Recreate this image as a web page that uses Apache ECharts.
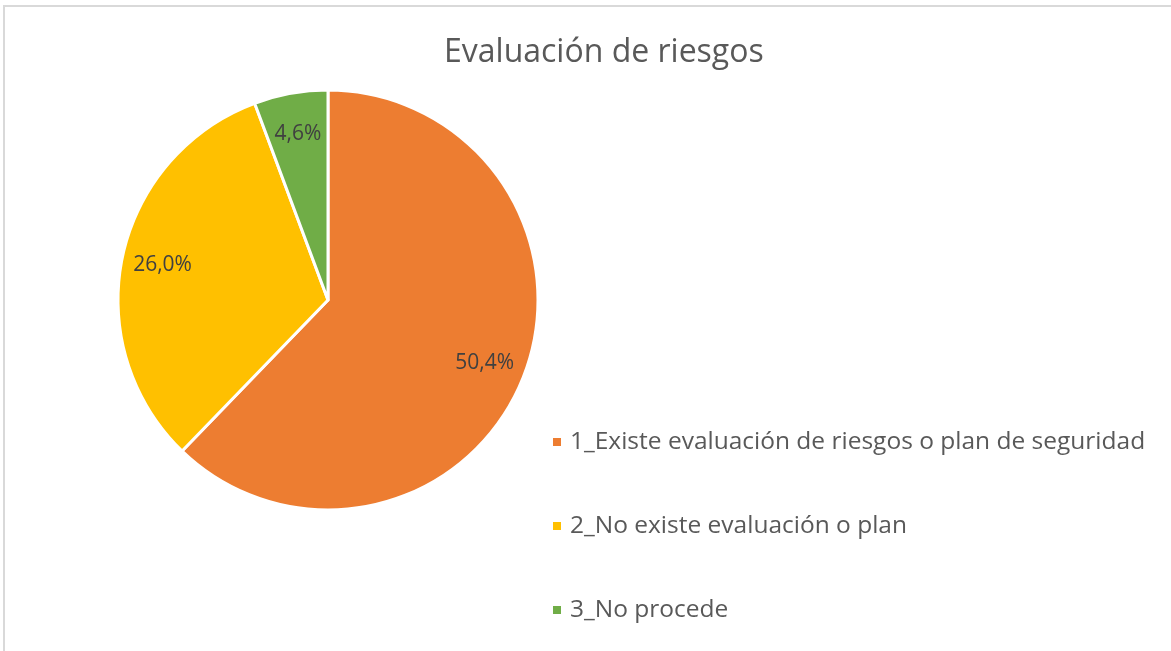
<!DOCTYPE html>
<html>
<head>
<meta charset="utf-8">
<script src="https://cdn.jsdelivr.net/npm/echarts@6/dist/echarts.min.js"></script>
<style>
  html, body { margin: 0; padding: 0; background: #fff; }
  #frame { position: absolute; left: 3px; top: 5px; width: 1168px; height: 646px;
           border-left: 2px solid #d9d9d9; border-top: 2px solid #d9d9d9; }
  #chart { position: absolute; left: 0; top: 0; width: 1171px; height: 651px; }
</style>
</head>
<body>
<div id="frame"></div>
<div id="chart"></div>
<script>
// datos del gráfico
const categorias = [
  '1_Existe evaluación de riesgos o plan de seguridad',
  '2_No existe evaluación o plan',
  '3_No procede'
]
const valores = [50.4, 26.0, 4.6]
const colores = ['#ED7D31', '#FFC000', '#70AD47']

const pieData = categorias.map((name, i) => ({
  name: name,
  value: valores[i],
  itemStyle: { color: colores[i] }
}))

const chart = echarts.init(document.getElementById('chart'))
const option = {
  animation: false,
  title: {
    text: 'Evaluación de riesgos',
    left: 439,
    top: 32,
    textStyle: {
      fontFamily: 'Open Sans',
      fontSize: 32,
      fontWeight: 'normal',
      color: '#595959'
    }
  },
  legend: {
    orient: 'vertical',
    left: 546,
    top: 423,
    itemWidth: 10,
    itemHeight: 10,
    itemGap: 56,
    icon: 'rect',
    data: categorias,
    textStyle: {
      fontFamily: 'Open Sans',
      fontSize: 24.5,
      lineHeight: 28,
      color: '#595959',
      padding: [0, 0, 0, 3]
    }
  },
  series: [
    {
      // porciones
      type: 'pie',
      center: [328, 300],
      radius: [0, 210],
      startAngle: 90,
      clockwise: true,
      data: pieData,
      label: { show: false },
      labelLine: { show: false },
      itemStyle: { borderColor: '#fff', borderWidth: 3 },
      emphasis: { disabled: true }
    },
    {
      // etiquetas de datos (más cerca del borde, como Excel)
      type: 'pie',
      center: [328, 300],
      radius: [122, 210],
      startAngle: 90,
      clockwise: true,
      silent: true,
      data: pieData.map(d => ({ name: d.name, value: d.value })),
      itemStyle: { color: 'rgba(0,0,0,0)' },
      labelLine: { show: false },
      label: {
        show: true,
        position: 'inside',
        fontFamily: 'Open Sans',
        fontSize: 21,
        color: '#404040',
        formatter: p => p.value.toFixed(1).replace('.', ',') + '%'
      },
      emphasis: { disabled: true }
    }
  ]
}
chart.setOption(option)
</script>
</body>
</html>
